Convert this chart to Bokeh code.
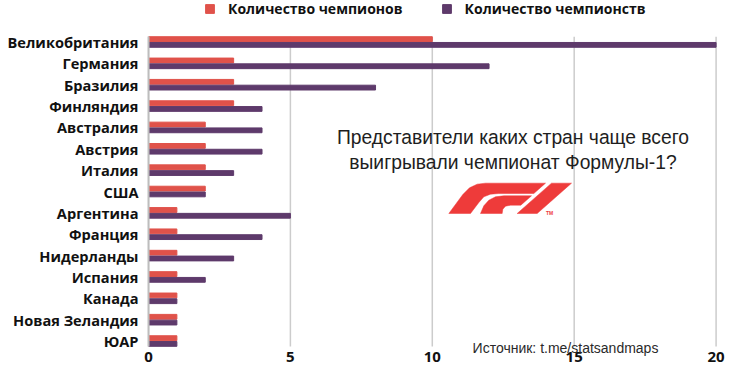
from bokeh.plotting import figure
from bokeh.models import (ColumnDataSource, Range1d, FixedTicker, Legend, LegendItem, Label)
from bokeh.transform import dodge
from bokeh.embed import file_html
from bokeh.resources import INLINE

countries = ["Великобритания", "Германия", "Бразилия", "Финляндия", "Австралия",
             "Австрия", "Италия", "США", "Аргентина", "Франция", "Нидерланды",
             "Испания", "Канада", "Новая Зеландия", "ЮАР"]
champions = [10, 3, 3, 3, 2, 2, 2, 2, 1, 1, 1, 1, 1, 1, 1]
titles = [20, 12, 8, 4, 4, 4, 3, 2, 5, 4, 3, 2, 1, 1, 1]
x_ticks = [0, 5, 10, 15, 20]
series_names = ["Количество чемпионов", "Количество чемпионств"]
RED = "#E0524A"
PURPLE = "#5E3A6B"

n = len(countries)
src = ColumnDataSource(dict(y=list(range(n)), champ=champions, titles=titles))

W, H = 734, 376
LB, RB, TB, BB = 148, 17, 0, 20
FH = H - TB - BB
FW = W - LB - RB
SY = 21.36            # pixels per category
Y0 = 41.5             # pixel row of the first category
y_top = -(Y0 - TB) / SY
y_bot = y_top + FH / SY

p = figure(width=W, height=H, output_backend="svg", toolbar_location=None,
           x_range=Range1d(0, 20.05), y_range=Range1d(y_bot, y_top),
           min_border_left=LB, min_border_right=RB, min_border_top=TB,
           min_border_bottom=BB)
p.outline_line_color = None
p.background_fill_color = "white"
p.border_fill_color = "white"

# vertical grid lines limited to the bar area
grid_src = ColumnDataSource(dict(x=x_ticks))
p.segment(x0="x", x1="x", y0=-0.25, y1=n - 0.75, source=grid_src,
          line_color="#cccccc", line_width=1.5)

r1 = p.hbar(y=dodge("y", -0.135, range=p.y_range), right="champ", left=0,
            height=0.225, color=RED, source=src)
r2 = p.hbar(y=dodge("y", 0.135, range=p.y_range), right="titles", left=0,
            height=0.225, color=PURPLE, source=src)

# axes
p.xaxis.ticker = FixedTicker(ticks=x_ticks)
p.xaxis.axis_line_color = None
p.xaxis.major_tick_line_color = None
p.xaxis.minor_tick_line_color = None
p.xaxis.major_tick_out = 0
p.xaxis.major_label_text_font = "Open Sans"
p.xaxis.major_label_text_font_style = "bold"
p.xaxis.major_label_text_font_size = "15px"
p.xaxis.major_label_text_color = "#111111"
p.xaxis.major_label_standoff = -5

p.yaxis.ticker = FixedTicker(ticks=list(range(n)))
p.yaxis.bounds = (-0.25, n - 0.75)
p.yaxis.major_label_overrides = {i: c for i, c in enumerate(countries)}
p.yaxis.axis_line_color = "#bdbdbd"
p.yaxis.axis_line_width = 2
p.yaxis.major_tick_line_color = None
p.yaxis.minor_tick_line_color = None
p.yaxis.major_tick_out = 0
p.yaxis.major_label_standoff = 10
p.yaxis.major_label_text_font = "Open Sans"
p.yaxis.major_label_text_font_style = "bold"
p.yaxis.major_label_text_font_size = "14.6px"
p.yaxis.major_label_text_color = "#111111"

p.xgrid.grid_line_color = None
p.ygrid.grid_line_color = None

# legend (inside the frame, above the bars)
legend = Legend(items=[LegendItem(label=series_names[0], renderers=[r1]),
                       LegendItem(label=series_names[1], renderers=[r2])],
                orientation="horizontal", location=(56, FH - 17.5),
                padding=0, margin=0, spacing=38, glyph_width=11, glyph_height=11,
                label_standoff=13, label_height=14,
                label_text_font="Open Sans", label_text_font_style="bold",
                label_text_font_size="14px", label_text_color="#111111",
                border_line_color=None, background_fill_alpha=0)
p.add_layout(legend)

# pixel -> data helpers for annotations
sx = FW / 20.05
def X(px):
    return (px - LB) / sx
def Y(py):
    return (py - TB) / SY + y_top

TXT = "#1e1e1e"
p.add_layout(Label(x=X(512.5), y=Y(137), text="Представители каких стран чаще всего",
                   text_font="Liberation Sans", text_font_size="19.3px",
                   text_color=TXT, text_align="center", text_baseline="middle"))
p.add_layout(Label(x=X(512.5), y=Y(162), text="выигрывали чемпионат Формулы-1?",
                   text_font="Liberation Sans", text_font_size="19.3px",
                   text_color=TXT, text_align="center", text_baseline="middle"))
p.add_layout(Label(x=X(565), y=Y(347.5), text="Источник: t.me/statsandmaps",
                   text_font="Liberation Sans", text_font_size="14px",
                   text_color="#2a2a2a", text_align="center", text_baseline="middle"))

# F1 logo (decoration), designed in a 3x zoom grid anchored at (445,178)
def zx(v):
    return X(445 + v / 3)
def zy(v):
    return Y(178 + v / 3)
outer = [(300, 14), (120, 14), (95, 17), (72, 28), (52, 48), (10, 105), (75, 105),
         (100, 72), (115, 55), (135, 47), (160, 45), (265, 45)]
inner = [(258, 52), (175, 52), (150, 55), (130, 65), (115, 82), (105, 105), (170, 105),
         (172, 92), (180, 83), (195, 80), (226, 80)]
one = [(318, 14), (378, 14), (275, 105), (215, 105)]
LOGO = "#EE3B3A"
for poly in (outer, inner, one):
    p.patch([zx(a) for a, b in poly], [zy(b) for a, b in poly],
            fill_color=LOGO, line_color=LOGO, line_width=0.5)
p.add_layout(Label(x=X(549), y=Y(212.5), text="TM", text_font="Liberation Sans",
                   text_font_style="bold", text_font_size="5px", text_color=LOGO,
                   text_align="center", text_baseline="middle"))

open("out.html", "w").write(file_html(p, INLINE))
